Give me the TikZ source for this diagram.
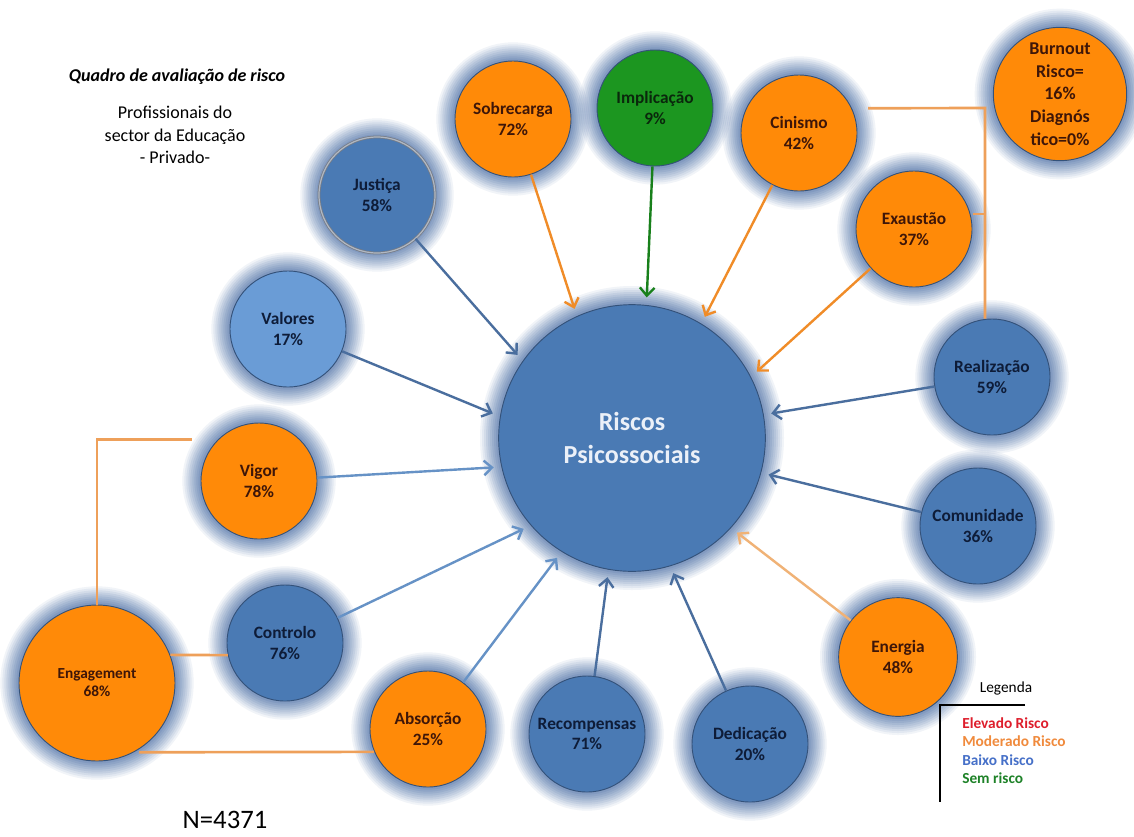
\documentclass[tikz,border=0pt]{standalone}
\usepackage{fontspec}
\setmainfont{Carlito}
\usepackage{tikz}
\usetikzlibrary{arrows.meta}

\definecolor{laranja}{RGB}{255,138,8}
\definecolor{azul}{RGB}{74,122,180}
\definecolor{azulclaro}{RGB}{106,156,214}
\definecolor{verde}{RGB}{28,150,32}
\definecolor{brilho}{RGB}{62,100,160}
\definecolor{borda}{RGB}{52,82,122}
\definecolor{txtlar}{RGB}{62,22,8}
\definecolor{txtazul}{RGB}{14,28,56}
\definecolor{txtverde}{RGB}{10,40,12}
\definecolor{setaazul}{RGB}{74,110,158}
\definecolor{setaclara}{RGB}{102,146,198}
\definecolor{setalar}{RGB}{240,140,40}
\definecolor{setaene}{RGB}{240,178,118}
\definecolor{ligacao}{RGB}{238,160,90}

\tikzset{
  halo/.style={preaction={draw=brilho,line width=28pt,draw opacity=.07},
               preaction={draw=brilho,line width=25pt,draw opacity=.08},
               preaction={draw=brilho,line width=22pt,draw opacity=.09},
               preaction={draw=brilho,line width=19pt,draw opacity=.1},
               preaction={draw=brilho,line width=16pt,draw opacity=.1},
               preaction={draw=brilho,line width=13pt,draw opacity=.11},
               preaction={draw=brilho,line width=10pt,draw opacity=.12},
               preaction={draw=brilho,line width=7pt,draw opacity=.13},
               preaction={draw=brilho,line width=4pt,draw opacity=.14}},
  bola/.style={circle,halo,draw=borda,line width=0.7pt,inner sep=0pt,
               minimum size=87pt,align=center,
               font=\fontsize{13}{15.5}\selectfont\bfseries},
  bolalar/.style={bola,fill=laranja,text=txtlar},
  bolaazul/.style={bola,fill=azul,text=txtazul},
  seta/.style={-{Straight Barb[length=6pt,width=11pt]},line width=1.8pt,color=setaazul},
  setac/.style={seta,color=setaclara},
  setal/.style={seta,color=setalar},
  setae/.style={seta,color=setaene},
  setav/.style={seta,color=verde!85!black},
  ligar/.style={line width=2pt,color=ligacao},
  legenda/.style={anchor=west,inner sep=0pt,font=\fontsize{11.5}{13}\selectfont\bfseries}
}

\begin{document}
\begin{tikzpicture}[x=0.75pt,y=-0.75pt]

\fill[white] (0,0) rectangle (1134,836);
\useasboundingbox (0,0) rectangle (1134,836);

\node[font=\fontsize{13.5}{16}\selectfont\bfseries\itshape] (tit) at (177,77) {Quadro de avaliação de risco};
\node[align=center,font=\fontsize{13.5}{17}\selectfont] (sub) at (175,135) {Profissionais do\\sector da Educação\\- Privado-};

% central circle
\node[bola,fill=azul,text={rgb,255:red,235;green,240;blue,248},minimum size=200pt,outer sep=6pt,
      font=\fontsize{19.5}{25}\selectfont\bfseries] (risk) at (632,438) {Riscos\\Psicossociais};

% factors round it
\node[bolaazul,draw={rgb,255:red,118;green,124;blue,134},double={rgb,255:red,176;green,184;blue,196},
      double distance=0.9pt,line width=0.6pt] (jus) at (377,195) {Justiça\\58\%};
\node[bolalar] (sob) at (513,119) {Sobrecarga\\72\%};
\node[bola,fill=verde,text=txtverde] (imp) at (655,108) {Implicação\\9\%};
\node[bolalar] (cin) at (799,133) {Cinismo\\42\%};
\node[bolalar,minimum size=100pt,font=\fontsize{13.5}{17}\selectfont\bfseries] (bur) at (1060,94) {Burnout\\Risco=\\16\%\\Diagnós\\tico=0\%};
\node[bolalar] (exa) at (914,229) {Exaustão\\37\%};
\node[bolaazul] (rea) at (992,377) {Realização\\59\%};
\node[bolaazul] (com) at (978,526) {Comunidade\\36\%};
\node[bolalar,minimum size=89pt] (ene) at (898,657) {Energia\\48\%};
\node[bolaazul] (ded) at (750,744) {Dedicação\\20\%};
\node[bolaazul] (rec) at (587,734) {Recompensas\\71\%};
\node[bolalar] (abs) at (428,729) {Absorção\\25\%};
\node[bolaazul] (con) at (285,643) {Controlo\\76\%};
\node[bolalar,minimum size=117pt,font=\fontsize{11.5}{13.5}\selectfont\bfseries] (eng) at (97,683) {Engagement\\68\%};
\node[bolalar] (vig) at (259,481) {Vigor\\78\%};
\node[bola,fill=azulclaro,text=txtazul] (val) at (288,329) {Valores\\17\%};

% arrows into the centre
\draw[seta] (jus) -- (risk.144);
\draw[setal] (sob) -- (risk.114);
\draw[setav] (imp) -- (risk.84);
\draw[setal] (cin) -- (risk.59);
\draw[setal] (exa) -- (risk.28);
\draw[seta] (rea) -- (risk.10);
\draw[seta] (com) -- (risk.-15);
\draw[setae] (ene) -- (risk.-42);
\draw[seta] (ded) -- (risk.-73);
\draw[seta] (rec) -- (risk.-100);
\draw[setac] (abs) -- (risk.-122);
\draw[setac] (con) -- (risk.-140);
\draw[setac] (vig) -- (risk.-168);
\draw[seta] (val) -- (risk.170);

% burnout bracket
\coordinate (dobra) at (985,108);
\draw[ligar,shorten <=12pt] (cin.25) -- (dobra) -- (dobra |- rea.north);
\draw[ligar,shorten <=2pt] (exa.15) -- (exa.15 -| dobra);

% engagement links
\draw[ligar,shorten >=19pt] (eng) |- (vig.135);
\draw[ligar] (eng.21) -- (con.192);
\draw[ligar,shorten <=4pt] (eng.-62) -- (abs.203);

% legend
\node[font=\fontsize{11.5}{13}\selectfont] (leg) at (1006,688) {Legenda};
\coordinate (lcanto) at (940,705);
\draw[line width=1.6pt] (1025,705) -- (lcanto) -- (940,802);
\node[legenda,text={rgb,255:red,222;green,30;blue,44}] (ele) at (962,723) {Elevado Risco};
\node[legenda,text={rgb,255:red,240;green,138;blue,60}] (mod) at (962,741) {Moderado Risco};
\node[legenda,text={rgb,255:red,70;green,112;blue,200}] (bai) at (962,760) {Baixo Risco};
\node[legenda,text={rgb,255:red,30;green,130;blue,40}] (sem) at (962,778) {Sem risco};

\node[font=\fontsize{20}{24}\selectfont] (amostra) at (225,820) {N=4371};

\end{tikzpicture}
\end{document}
